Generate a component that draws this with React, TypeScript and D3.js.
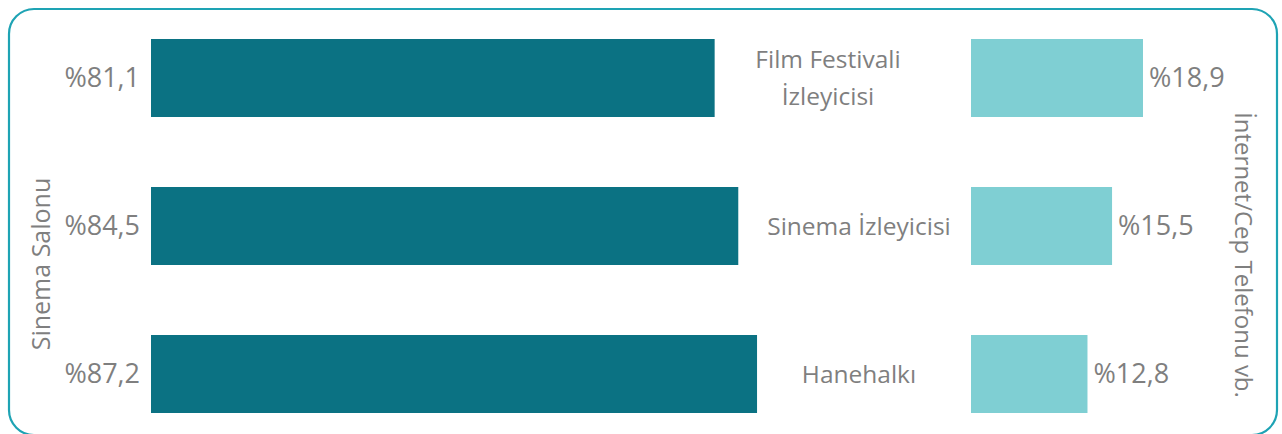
import { useEffect, useRef } from 'react';
import * as d3 from 'd3';

const categories = ['Film Festivali İzleyicisi', 'Sinema İzleyicisi', 'Hanehalkı'];
const sinemaSalonu = [81.1, 84.5, 87.2];
const internetCep = [18.9, 15.5, 12.8];
const leftTitle = 'Sinema Salonu';
const rightTitle = 'İnternet/Cep Telefonu vb.';

const fmt = (v: number) => '%' + v.toFixed(1).replace('.', ',');

export default function App() {
  const ref = useRef<SVGSVGElement | null>(null);

  useEffect(() => {
    const svg = d3.select(ref.current);
    svg.selectAll('*').remove();

    const W = 1282;
    const H = 434;
    const font = '"Open Sans", sans-serif';
    const gray = '#7f7f7f';

    svg.attr('width', W).attr('height', H);

    svg.append('rect')
      .attr('x', 9)
      .attr('y', 9)
      .attr('width', 1268)
      .attr('height', 426)
      .attr('rx', 25)
      .attr('fill', '#fff')
      .attr('stroke', '#1ea3b4')
      .attr('stroke-width', 2.2);

    const y = d3.scaleBand<string>()
      .domain(categories)
      .range([39, 413])
      .paddingInner(0.473)
      .paddingOuter(0);

    const xLeft = d3.scaleLinear().domain([0, 100]).range([0, 695]);
    const xRight = d3.scaleLinear().domain([0, 20]).range([0, 182]);
    const leftX0 = 151;
    const rightX0 = 971;

    const rows = categories.map((c, i) => ({ c, a: sinemaSalonu[i], b: internetCep[i] }));

    svg.selectAll('.bar-left')
      .data(rows)
      .enter()
      .append('rect')
      .attr('x', leftX0)
      .attr('y', d => y(d.c)!)
      .attr('width', d => xLeft(d.a))
      .attr('height', y.bandwidth())
      .attr('fill', '#0b7283');

    svg.selectAll('.bar-right')
      .data(rows)
      .enter()
      .append('rect')
      .attr('x', rightX0)
      .attr('y', d => y(d.c)!)
      .attr('width', d => xRight(d.b))
      .attr('height', y.bandwidth())
      .attr('fill', '#7fcfd3');

    svg.selectAll('.lbl-left')
      .data(rows)
      .enter()
      .append('text')
      .attr('x', leftX0 - 11)
      .attr('y', d => y(d.c)! + y.bandwidth() / 2)
      .attr('dy', '0.35em')
      .attr('text-anchor', 'end')
      .attr('fill', gray)
      .attr('font-family', font)
      .attr('font-size', '27px')
      .text(d => fmt(d.a));

    svg.selectAll('.lbl-right')
      .data(rows)
      .enter()
      .append('text')
      .attr('x', d => rightX0 + xRight(d.b) + 6)
      .attr('y', d => y(d.c)! + y.bandwidth() / 2)
      .attr('dy', '0.35em')
      .attr('text-anchor', 'start')
      .attr('fill', gray)
      .attr('font-family', font)
      .attr('font-size', '27px')
      .text(d => fmt(d.b));

    // category names between the two bar groups
    rows.forEach(d => {
      const cy = y(d.c)! + y.bandwidth() / 2;
      const lines = d.c.length > 18 ? ['Film Festivali', 'İzleyicisi'] : [d.c];
      const cx = lines.length > 1 ? 828 : 859;
      const t = svg.append('text')
        .attr('text-anchor', 'middle')
        .attr('fill', gray)
        .attr('font-family', font)
        .attr('font-size', '24.5px');
      lines.forEach((ln, j) => {
        t.append('tspan')
          .attr('x', cx)
          .attr('y', cy + (j - (lines.length - 1) / 2) * 37)
          .attr('dy', '0.35em')
          .text(ln);
      });
    });

    svg.append('text')
      .attr('transform', `translate(50,264) rotate(-90)`)
      .attr('text-anchor', 'middle')
      .attr('fill', gray)
      .attr('font-family', font)
      .attr('font-size', '25px')
      .text(leftTitle);

    svg.append('text')
      .attr('transform', `translate(1235,255) rotate(90)`)
      .attr('text-anchor', 'middle')
      .attr('fill', gray)
      .attr('font-family', font)
      .attr('font-size', '24px')
      .text(rightTitle);
  }, []);

  return <svg ref={ref} style={{ position: 'absolute', left: 0, top: 0, display: 'block' }} />;
}
